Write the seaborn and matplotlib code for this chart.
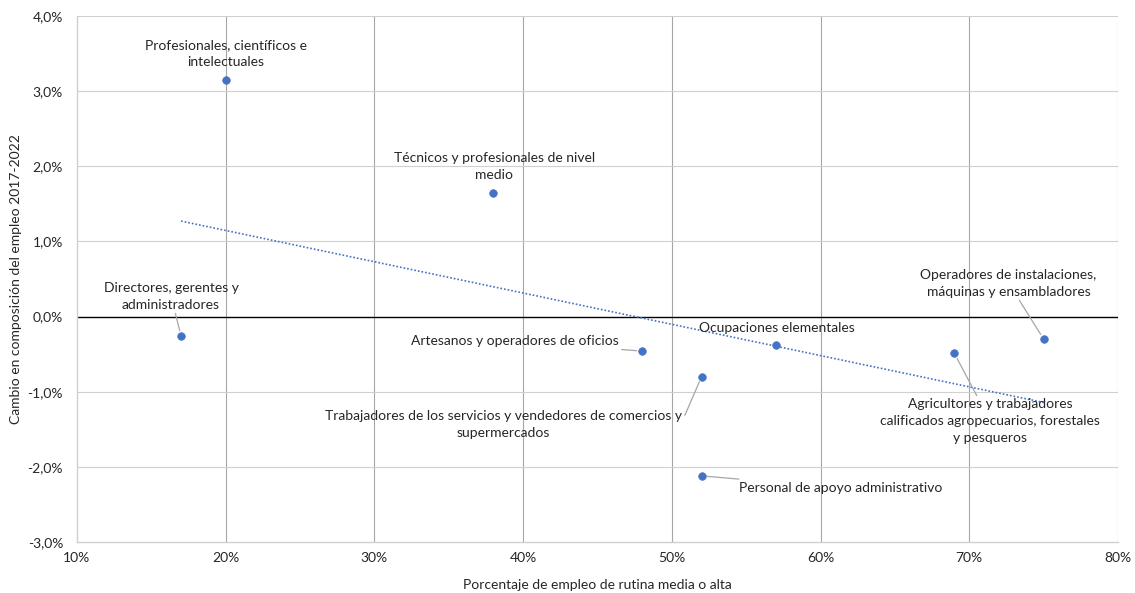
import matplotlib
matplotlib.use("Agg")
import matplotlib.pyplot as plt
import seaborn as sns
import numpy as np
import pandas as pd
from matplotlib.ticker import FuncFormatter, MultipleLocator

# ---- data ----
categories = [
    "Profesionales, científicos e\nintelectuales",
    "Técnicos y profesionales de nivel\nmedio",
    "Directores, gerentes y\nadministradores",
    "Artesanos y operadores de oficios",
    "Trabajadores de los servicios y vendedores de comercios y\nsupermercados",
    "Personal de apoyo administrativo",
    "Ocupaciones elementales",
    "Operadores de instalaciones,\nmáquinas y ensambladores",
    "Agricultores y trabajadores\ncalificados agropecuarios, forestales\ny pesqueros",
]
rutina_pct = [20.0, 38.0, 17.0, 48.0, 52.0, 52.0, 57.0, 75.0, 69.0]
cambio_pct = [3.15, 1.65, -0.26, -0.46, -0.80, -2.12, -0.38, -0.30, -0.49]

# label offsets in pixels (layout), and leader-line anchor on the label (None = no line)
label_dx = [0, 1, -10, -127, -198, 139, 1, -35, 36]
label_dy = [26, 26, 40, 10, -48, -12, 17, 56, -68]
leader_rel = [None, None, (0.5, 0.5), (0.5, 0.5), (1.0, 0.6), (0.5, 0.5), None, (0.5, 0.5), (0.5, 0.5)]

df = pd.DataFrame({"x": rutina_pct, "y": cambio_pct, "label": categories})

plt.rcParams["font.family"] = ["Lato", "DejaVu Sans"]
fig = plt.figure(figsize=(11.35, 5.93), dpi=100)
ax = fig.add_axes([0.0678, 0.086, 0.9172, 0.887])

blue = "#4472C4"
sns.regplot(data=df, x="x", y="y", ax=ax, ci=None, scatter=False, truncate=True,
            line_kws=dict(color=blue, linestyle=(0, (1, 1.2)), linewidth=1.2, zorder=3))
sns.scatterplot(data=df, x="x", y="y", ax=ax, color=blue, s=30, edgecolor=blue,
                linewidth=0.5, zorder=4)

ax.set_xlim(10, 80)
ax.set_ylim(-3, 4)
ax.xaxis.set_major_locator(MultipleLocator(10))
ax.yaxis.set_major_locator(MultipleLocator(1))
ax.xaxis.set_major_formatter(FuncFormatter(lambda v, p: f"{v:.0f}%"))
ax.yaxis.set_major_formatter(FuncFormatter(lambda v, p: f"{v:.1f}%".replace(".", ",")))

ax.grid(False)
for v in range(20, 81, 10):
    ax.axvline(v, color="#a6a6a6", linewidth=0.8, zorder=1)
for v in [-2, -1, 1, 2, 3, 4]:
    ax.axhline(v, color="#d0d0d0", linewidth=0.8, zorder=1)
ax.axhline(0, color="black", linewidth=1.0, zorder=2)

for s in ["top", "right"]:
    ax.spines[s].set_visible(False)
for s in ["left", "bottom"]:
    ax.spines[s].set_color("#d0d0d0")
    ax.spines[s].set_linewidth(1.0)

ax.tick_params(axis="both", length=0, labelsize=10, colors="#262626")
ax.tick_params(axis="y", pad=10)
ax.tick_params(axis="x", pad=7)

ax.set_xlabel("Porcentaje de empleo de rutina media o alta", fontsize=10, color="#262626", labelpad=11)
ax.set_ylabel("Cambio en composición del empleo 2017-2022", fontsize=10, color="#262626", labelpad=4)

for i, lab in enumerate(categories):
    kw = dict(xy=(rutina_pct[i], cambio_pct[i]), xytext=(label_dx[i], label_dy[i]),
              textcoords="offset pixels", ha="center", va="center", fontsize=10,
              color="#262626", linespacing=1.5, zorder=5)
    if leader_rel[i] is not None:
        kw["arrowprops"] = dict(arrowstyle="-", color="#a6a6a6", linewidth=0.9,
                                shrinkA=0, shrinkB=4, relpos=leader_rel[i])
    ax.annotate(lab, **kw)

fig.savefig("out.png", dpi=100)
